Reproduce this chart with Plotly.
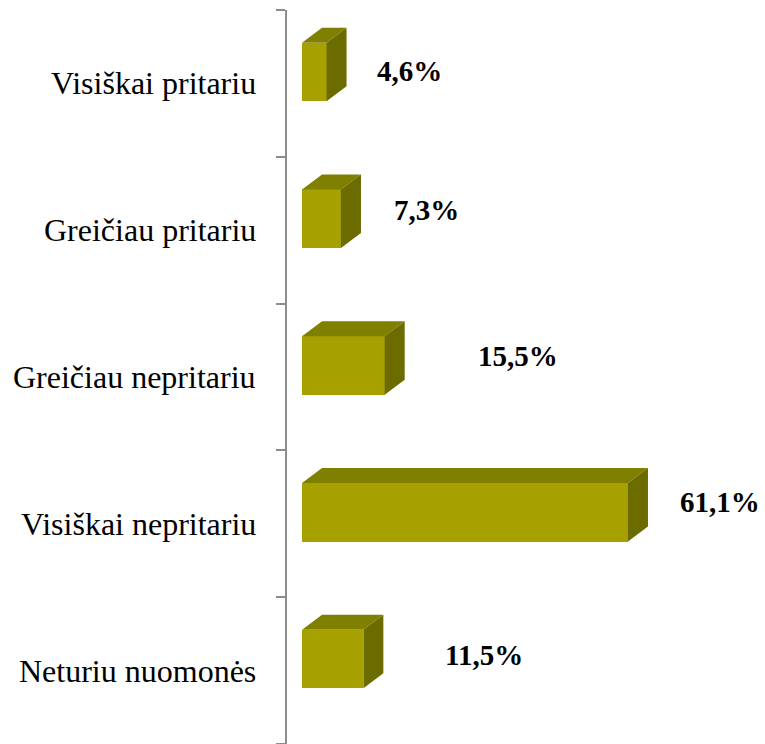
import plotly.graph_objects as go

CATEGORIES = [
    "Visiškai pritariu",
    "Greičiau pritariu",
    "Greičiau nepritariu",
    "Visiškai nepritariu",
    "Neturiu nuomonės",
]
VALUES = [4.6, 7.3, 15.5, 61.1, 11.5]
LABELS = ["4,6%", "7,3%", "15,5%", "61,1%", "11,5%"]

FRONT = "#a6a000"
TOP = "#808000"
SIDE = "#6b6b00"
AXIS = "#8c8c8c"
FONT = "Liberation Serif, Times New Roman, serif"

# geometry of the fake 3D boxes (data units)
PX_PER_PCT = 5.335
PX_PER_CAT = 146.8
BAR_H = 58.5 / PX_PER_CAT
BAR_SHIFT = -11.5 / PX_PER_CAT
DEPTH_X = 20 / PX_PER_PCT
DEPTH_Y = 15 / PX_PER_CAT
# value label placement tweaks (px), as the original puts them
LABEL_GAP = [31, 34, 74, 33, 63]
LABEL_LIFT = [1, 9, 10, 10, 4]

pos = [i + BAR_SHIFT for i in range(len(VALUES))]

fig = go.Figure()
fig.add_trace(go.Bar(
    x=VALUES, y=pos, base=0, orientation="h", width=BAR_H,
    marker=dict(color=FRONT, line=dict(width=0)), hoverinfo="skip",
))

tx, ty, sx, sy = [], [], [], []
for v, c in zip(VALUES, pos):
    yt, yb = c - BAR_H / 2, c + BAR_H / 2
    tx += [0, v, v + DEPTH_X, DEPTH_X, 0, None]
    ty += [yt, yt, yt - DEPTH_Y, yt - DEPTH_Y, yt, None]
    sx += [v, v + DEPTH_X, v + DEPTH_X, v, v, None]
    sy += [yt, yt - DEPTH_Y, yb - DEPTH_Y, yb, yt, None]

fig.add_trace(go.Scatter(x=tx, y=ty, mode="lines", fill="toself", fillcolor=TOP,
                         line=dict(width=0, color=TOP), hoverinfo="skip"))
fig.add_trace(go.Scatter(x=sx, y=sy, mode="lines", fill="toself", fillcolor=SIDE,
                         line=dict(width=0, color=SIDE), hoverinfo="skip"))

for v, c, lab, gap, lift in zip(VALUES, pos, LABELS, LABEL_GAP, LABEL_LIFT):
    fig.add_annotation(x=v, y=c, text=f"<b>{lab}</b>", showarrow=False,
                       xanchor="left", yanchor="middle", xshift=17 + gap, yshift=lift,
                       font=dict(family=FONT, size=29, color="black"))

for i, cat in enumerate(CATEGORIES):
    fig.add_annotation(xref="paper", x=0, y=i, text=cat, showarrow=False,
                       xanchor="right", yanchor="middle", xshift=-29,
                       font=dict(family=FONT, size=32, color="black"))

x0 = -15 / PX_PER_PCT
fig.update_xaxes(range=[x0, x0 + 478 / PX_PER_PCT], visible=False,
                 fixedrange=True, automargin=False)
fig.update_yaxes(
    range=[len(VALUES) - 0.5, -0.5], showgrid=False, zeroline=False,
    showline=True, linecolor=AXIS, linewidth=2, automargin=False,
    tickmode="array", tickvals=[i - 0.5 for i in range(len(VALUES) + 1)],
    ticktext=[""] * (len(VALUES) + 1), ticks="outside", ticklen=9,
    tickcolor=AXIS, tickwidth=2, fixedrange=True,
)
fig.update_layout(
    width=765, height=744, showlegend=False,
    margin=dict(l=287, r=0, t=10, b=0),
    paper_bgcolor="white", plot_bgcolor="white",
    bargap=0,
)
# page body has a default 8px margin; drop it so the figure fills the window
fig.write_html("out.html", config={"displayModeBar": False},
               post_script="document.body.style.margin='0';")
